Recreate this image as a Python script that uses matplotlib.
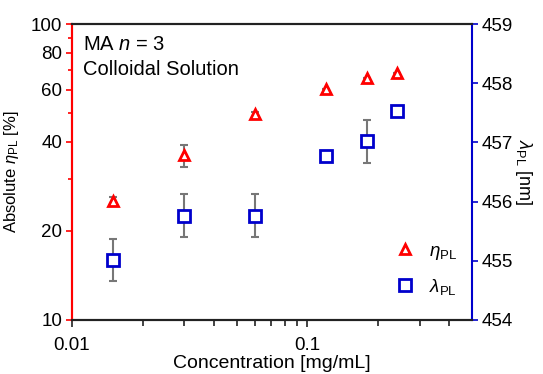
import matplotlib
matplotlib.use('Agg')
import matplotlib.pyplot as plt
from matplotlib.ticker import FixedLocator, NullFormatter, FixedFormatter

plt.rcParams['font.family'] = ['Liberation Sans', 'DejaVu Sans']
plt.rcParams['mathtext.fontset'] = 'custom'
plt.rcParams['mathtext.rm'] = 'Liberation Sans'
plt.rcParams['mathtext.it'] = 'Liberation Sans:italic'

# 数据
conc = [0.015, 0.03, 0.06, 0.12, 0.18, 0.24]
eta = [25.3, 36.0, 49.5, 60.3, 65.5, 68.1]
eta_err = [0.8, 3.0, 1.0, 0.0, 0.0, 0.0]
lam = [455.01, 455.76, 455.76, 456.77, 457.02, 457.53]
lam_err = [0.35, 0.36, 0.36, 0.0, 0.36, 0.0]

fig = plt.figure(figsize=(5.43, 3.74), dpi=100)
ax = fig.add_axes([0.1326, 0.1444, 0.869 - 0.1326, 0.9358 - 0.1444])
ax2 = ax.twinx()

# 误差棒
ax.errorbar(conc, eta, yerr=eta_err, fmt='none', ecolor='#777777', elinewidth=1.5,
            capsize=3, capthick=1.5, zorder=2)
ax2.errorbar(conc, lam, yerr=lam_err, fmt='none', ecolor='#777777', elinewidth=1.5,
             capsize=3, capthick=1.5, zorder=2)

h1, = ax.plot(conc, eta, linestyle='none', marker='^', ms=7.5, mew=2,
              mfc='white', mec='#ff0000', zorder=3)
h2, = ax2.plot(conc, lam, linestyle='none', marker='s', ms=8, mew=2,
               mfc='white', mec='#0000cc', zorder=3)

ax.set_xscale('log')
ax.set_yscale('log')
ax.set_xlim(0.01, 0.5)
ax.set_ylim(10, 100)
ax2.set_ylim(454, 459)

ax.yaxis.set_major_locator(FixedLocator([10, 20, 40, 60, 80, 100]))
ax.yaxis.set_major_formatter(FixedFormatter(['10', '20', '40', '60', '80', '100']))
ax.yaxis.set_minor_locator(FixedLocator([30, 50, 70, 90]))
ax.yaxis.set_minor_formatter(NullFormatter())
ax.xaxis.set_major_locator(FixedLocator([0.01, 0.1]))
ax.xaxis.set_major_formatter(FixedFormatter(['0.01', '0.1']))
ax.xaxis.set_minor_locator(FixedLocator([0.02, 0.03, 0.04, 0.05, 0.06, 0.07, 0.08, 0.09,
                                         0.2, 0.3, 0.4]))
ax.xaxis.set_minor_formatter(NullFormatter())
ax2.set_yticks([454, 455, 456, 457, 458, 459])

for a in (ax, ax2):
    for s in a.spines.values():
        s.set_linewidth(1.5)
ax2.spines['left'].set_color('#ff0000')
ax2.spines['right'].set_color('#0000cc')
ax2.spines['top'].set_color('#222222')
ax2.spines['bottom'].set_color('#222222')
ax.spines['left'].set_color('#ff0000')
ax.spines['right'].set_visible(False)

ax.tick_params(axis='y', which='both', colors='#ff0000', labelcolor='black', labelsize=13.5,
               direction='out', width=1.2, pad=3)
ax.tick_params(axis='y', which='major', length=4)
ax.tick_params(axis='y', which='minor', length=3)
ax.tick_params(axis='x', which='both', direction='out', labelsize=13.5, width=1.2,
               color='#222222', pad=7)
ax.tick_params(axis='x', which='major', length=5)
ax.tick_params(axis='x', which='minor', length=4)
ax2.tick_params(axis='y', colors='#0000cc', labelcolor='black', labelsize=13.5,
                direction='out', length=4, width=1.2, pad=3)

ax.set_xlabel('Concentration [mg/mL]', fontsize=14, labelpad=1)
ax.set_ylabel(r'Absolute $\mathit{\eta}_{\mathrm{PL}}$ [%]', fontsize=12, labelpad=7)
ax2.set_ylabel(r'$\mathit{\lambda}_{\mathrm{PL}}$ [nm]', fontsize=13, rotation=-90, labelpad=15)

ax.text(0.027, 0.93, r'MA $\mathit{n}$ = 3', transform=ax.transAxes, fontsize=14.5, va='center')
ax.text(0.027, 0.845, 'Colloidal Solution', transform=ax.transAxes, fontsize=14.5, va='center')

ax.legend([h1, h2], [r'$\mathit{\eta}_{\mathrm{PL}}$', r'$\mathit{\lambda}_{\mathrm{PL}}$'],
          loc='lower right', bbox_to_anchor=(1.005, 0.022), frameon=False, fontsize=13.5,
          handletextpad=0.7, labelspacing=0.8, handlelength=1.2)

fig.savefig('out.png', dpi=100)
